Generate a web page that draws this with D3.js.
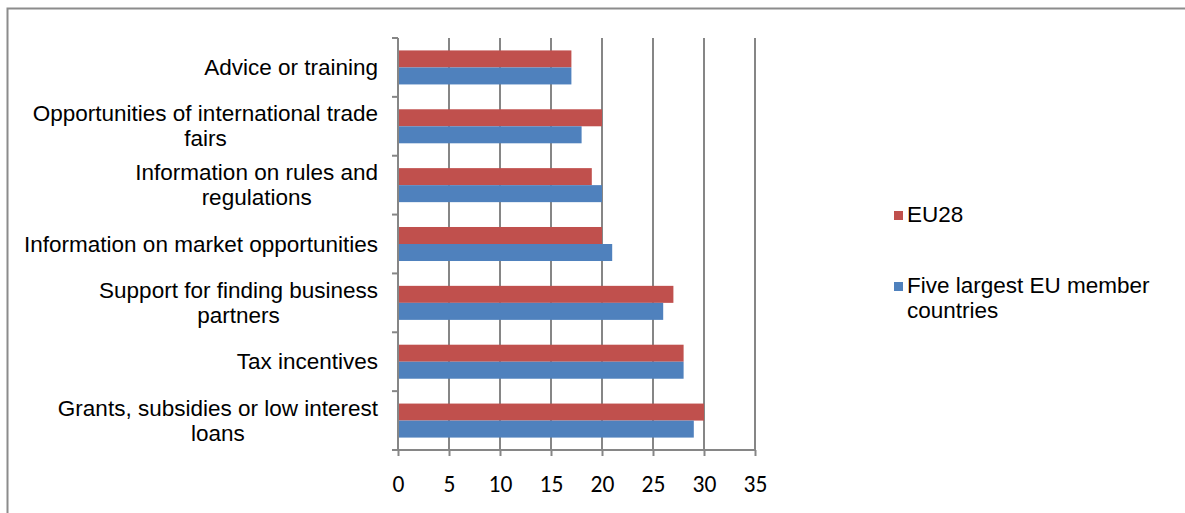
<!DOCTYPE html>
<html>
<head>
<meta charset="utf-8">
<script src="https://cdn.jsdelivr.net/npm/d3@7"></script>
<style>
  html, body { margin: 0; padding: 0; background: #fff; }
  svg { display: block; }
</style>
</head>
<body>
<svg id="chart" width="1185" height="513"></svg>
<script>
// Support measures, share of responses (%)
const categories = [
  "Advice or training",
  "Opportunities of international trade\nfairs",
  "Information on rules and\nregulations",
  "Information on market opportunities",
  "Support for finding business\npartners",
  "Tax incentives",
  "Grants, subsidies or low interest\nloans"
];
const seriesNames = ["EU28", "Five largest EU member countries"];
const eu28 =       [17, 20, 19, 20, 27, 28, 30];
const fiveLargest = [17, 18, 20, 21, 26, 28, 29];
const xTicks = [0, 5, 10, 15, 20, 25, 30, 35];
const colors = ["#C0504D", "#4F81BD"];

const svg = d3.select("#chart");
const W = 1185, H = 513;

// chart area frame
svg.append("rect")
  .attr("x", 7.5).attr("y", 8.5)
  .attr("width", W + 10).attr("height", H + 10)
  .attr("fill", "#fff").attr("stroke", "#8c8c8c").attr("stroke-width", 2);

const plot = { left: 398, right: 755, top: 38, bottom: 450 };

const x = d3.scaleLinear().domain([0, 35]).range([plot.left, plot.right]);
const y = d3.scaleBand().domain(categories).range([plot.top, plot.bottom]).padding(0);
const sub = d3.scaleBand().domain([0, 1]).range([0, y.bandwidth()])
  .paddingInner(0).paddingOuter(0.73);

const gridColor = "#868686";

// vertical gridlines
svg.append("g").selectAll("line")
  .data(xTicks.slice(1))
  .join("line")
  .attr("x1", d => x(d)).attr("x2", d => x(d))
  .attr("y1", plot.top).attr("y2", plot.bottom)
  .attr("stroke", gridColor).attr("stroke-width", 2);

// bars
const series = [eu28, fiveLargest];
const groups = svg.append("g").selectAll("g")
  .data(categories)
  .join("g")
  .attr("transform", d => `translate(0,${y(d)})`);

groups.selectAll("rect")
  .data((d, i) => series.map((s, k) => ({ k, v: s[i] })))
  .join("rect")
  .attr("x", x(0))
  .attr("y", d => sub(d.k))
  .attr("width", d => x(d.v) - x(0))
  .attr("height", sub.bandwidth())
  .attr("fill", d => colors[d.k]);

// bottom axis
const xAxis = d3.axisBottom(x).tickValues(xTicks).tickSize(6);
const gx = svg.append("g")
  .attr("transform", `translate(0,${plot.bottom})`)
  .call(xAxis);
gx.select(".domain").attr("stroke", gridColor).attr("stroke-width", 2)
  .attr("d", `M${plot.left},0H${plot.right}`);
gx.selectAll(".tick line").attr("stroke", gridColor).attr("stroke-width", 2);
gx.selectAll(".tick text")
  .attr("fill", "#000")
  .attr("y", 42).attr("dy", null)
  .style("font-family", "Carlito, Lato, sans-serif")
  .style("font-size", "23.5px");

// left axis with boundary ticks
const boundaries = d3.range(categories.length + 1).map(i => plot.top + i * y.step());
svg.append("line")
  .attr("x1", plot.left).attr("x2", plot.left)
  .attr("y1", plot.top).attr("y2", plot.bottom)
  .attr("stroke", gridColor).attr("stroke-width", 2);
svg.append("g").selectAll("line")
  .data(boundaries)
  .join("line")
  .attr("x1", plot.left - 6).attr("x2", plot.left)
  .attr("y1", d => d).attr("y2", d => d)
  .attr("stroke", gridColor).attr("stroke-width", 2);

// category labels (wrapped lines centred on each other, right-aligned block)
const lineH = 25;
const fontSize = 22.5;
const labelFont = "'Liberation Sans', Arial, sans-serif";
const labels = svg.append("g")
  .style("font-family", labelFont).style("font-size", fontSize + "px").attr("fill", "#000");

categories.forEach(c => {
  const lines = c.split("\n");
  const cy = y(c) + y.bandwidth() / 2;
  const g = labels.append("g");
  const texts = lines.map((ln, i) => g.append("text")
    .attr("y", cy + (i - (lines.length - 1) / 2) * lineH + 7.5)
    .text(ln));
  const widths = texts.map(t => t.node().getComputedTextLength());
  const maxW = d3.max(widths);
  const right = 378;
  texts.forEach(t => {
    t.attr("x", right - maxW / 2).attr("text-anchor", "middle");
  });
});

// legend
const legend = svg.append("g")
  .style("font-family", labelFont).style("font-size", fontSize + "px");
const legendItems = [
  { name: ["EU28"], color: colors[0], y: 222 },
  { name: ["Five largest EU member", "countries"], color: colors[1], y: 293 }
];
legendItems.forEach(it => {
  legend.append("rect")
    .attr("x", 894).attr("y", it.y - 11)
    .attr("width", 9).attr("height", 9)
    .attr("fill", it.color);
  it.name.forEach((ln, i) => {
    legend.append("text")
      .attr("x", 907).attr("y", it.y + i * 25)
      .attr("fill", "#000")
      .text(ln);
  });
});
</script>
</body>
</html>
